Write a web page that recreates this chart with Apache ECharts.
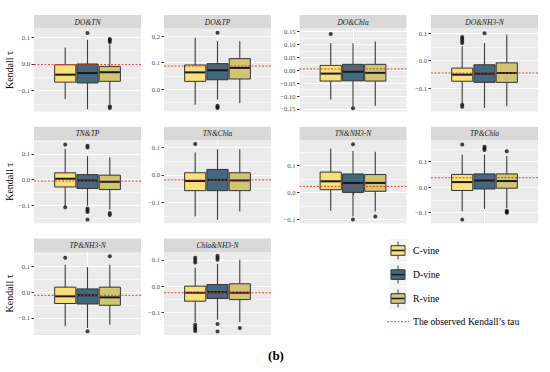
<!DOCTYPE html>
<html><head><meta charset="utf-8">
<script src="https://cdn.jsdelivr.net/npm/echarts@6/dist/echarts.min.js"></script>
<style>html,body{margin:0;padding:0;background:#fff}#c{width:550px;height:372px}</style>
</head><body><div id="c"></div>
<script>
// ---- data ----
const panelNames = ['DO&TN','DO&TP','DO&Chla','DO&NH3-N','TN&TP','TN&Chla','TN&NH3-N','TP&Chla','TP&NH3-N','Chla&NH3-N'];
const vineNames = ['C-vine','D-vine','R-vine'];
// [lower whisker, Q1, median, Q3, upper whisker]
const cVine = [
 [-0.131,-0.068,-0.040,-0.003,0.062],
 [-0.059,0.029,0.063,0.091,0.194],
 [-0.113,-0.042,-0.013,0.019,0.105],
 [-0.154,-0.075,-0.051,-0.027,0.052],
 [-0.104,-0.029,0.003,0.026,0.119],
 [-0.151,-0.057,-0.022,0.008,0.081],
 [-0.068,0.010,0.041,0.075,0.161],
 [-0.094,-0.013,0.020,0.050,0.128],
 [-0.133,-0.044,-0.016,0.020,0.108],
 [-0.136,-0.057,-0.025,0.000,0.070]
];
const dVine = [
 [-0.170,-0.071,-0.034,0.000,0.091],
 [-0.040,0.035,0.071,0.096,0.181],
 [-0.141,-0.041,-0.006,0.023,0.105],
 [-0.172,-0.079,-0.047,-0.015,0.064],
 [-0.102,-0.035,-0.004,0.019,0.091],
 [-0.163,-0.057,-0.018,0.020,0.093],
 [-0.089,0.000,0.035,0.068,0.153],
 [-0.085,-0.007,0.026,0.052,0.128],
 [-0.140,-0.046,-0.012,0.013,0.098],
 [-0.127,-0.047,-0.023,0.006,0.085]
];
const rVine = [
 [-0.150,-0.065,-0.031,-0.009,0.073],
 [-0.053,0.038,0.080,0.115,0.181],
 [-0.138,-0.042,-0.010,0.023,0.112],
 [-0.166,-0.079,-0.045,-0.008,0.095],
 [-0.117,-0.039,-0.009,0.017,0.087],
 [-0.133,-0.057,-0.020,0.008,0.093],
 [-0.071,0.004,0.035,0.066,0.150],
 [-0.081,-0.004,0.024,0.052,0.122],
 [-0.127,-0.051,-0.020,0.020,0.108],
 [-0.136,-0.051,-0.025,0.009,0.100]
];
const cOutliers = [[],[],[0.141],[0.086,0.080,0.072,0.064,-0.160,-0.168],[0.136,-0.108],[0.112],[],[0.167,-0.127],[0.135],[0.108,0.099,0.090,-0.146,-0.155,-0.163,-0.170]];
const dOutliers = [[0.116],[0.213,-0.063,-0.068,-0.072],[-0.147],[0.100],[0.131,0.125,-0.113,-0.120,-0.126,-0.156],[],[0.178,-0.100],[0.158,0.152,0.146],[-0.153],[0.115,0.108,0.100,-0.144,-0.172]];
const rOutliers = [[0.094,0.088,0.082,-0.158,-0.165],[],[],[],[-0.130,-0.138],[],[-0.089],[0.141,-0.092,-0.097,-0.100],[0.141],[-0.159]];
const observedTau = [-0.002,0.087,0.005,-0.045,-0.006,-0.018,0.022,0.037,-0.012,-0.025];
// axis limits and tick steps
const yMin = [-0.178,-0.085,-0.160,-0.185,-0.170,-0.175,-0.114,-0.141,-0.167,-0.185];
const yMax = [0.133,0.229,0.162,0.117,0.153,0.126,0.193,0.184,0.158,0.130];
const tickStep = [0.1,0.1,0.05,0.1,0.1,0.1,0.1,0.1,0.1,0.1];
const tickDecimals = [1,1,2,1,1,1,1,1,1,1];
const yTitle = 'Kendall τ';
const legendLine = 'The observed Kendall’s tau';
const figLabel = '(b)';

// ---- styles / layout ----
const vineColors = ['#F8E07C','#45687F','#CFC574'];
const FONT = '"Liberation Serif","DejaVu Serif",serif';
const colLeft = [34,164,299.5,431];
const rowTop = [15,126.7,238.4];
const panelW = 107, stripH = 13.5, plotH = 83;

function ticksFor(p, minor){
  const s = tickStep[p], out = [];
  const a = Math.ceil((yMin[p]-1e-9)/(s/2)), b = Math.floor((yMax[p]+1e-9)/(s/2));
  for (let k=a;k<=b;k++){
    const isMinor = Math.abs(k)%2===1;
    if (isMinor===minor) out.push(+(k*s/2).toFixed(4));
  }
  return out;
}
function fmt(p){ return v => { const t = Math.abs(v).toFixed(tickDecimals[p]); return (v < -1e-9 ? '\u2212' : '') + t; }; }

const grids=[], xAxes=[], yAxes=[], series=[], graphics=[];
const N = panelNames.length;
for (let p=0;p<N;p++){
  const col = p%4, row = Math.floor(p/4);
  const L = colLeft[col], T = rowTop[row]+stripH;
  grids.push({left:L, top:T, width:panelW, height:plotH, show:true, backgroundColor:'#EBEBEB', borderWidth:0});
  graphics.push({type:'rect', shape:{x:L,y:rowTop[row],width:panelW,height:stripH}, style:{fill:'#D9D9D9'}, silent:true});
  graphics.push({type:'text', x:L+panelW/2, y:rowTop[row]+stripH/2+0.5, style:{text:panelNames[p], font:'italic 7.5px '+FONT, fill:'#1A1A1A', align:'center', verticalAlign:'middle'}, silent:true});
}
for (let p=0;p<N;p++){
  const col = p%4, row = Math.floor(p/4);
  const L = colLeft[col], T = rowTop[row]+stripH;
  grids.push({left:L+panelW*0.1875, top:T, width:panelW*0.625, height:plotH, show:false});
}
// outer x axes (value, 0.4..1.6)
for (let p=0;p<N;p++){
  xAxes.push({type:'value', gridIndex:p, min:0.4, max:1.6, axisLine:{show:false},
    axisTick:{show:true, customValues:[1], length:3, lineStyle:{color:'#333', width:1}},
    axisLabel:{show:false}, splitLine:{show:true, lineStyle:{color:'#FFFFFF', width:1}}});
}
// inner category axes
for (let p=0;p<N;p++){
  xAxes.push({type:'category', gridIndex:N+p, data:vineNames, show:false, boundaryGap:true});
}
// outer major y axes
for (let p=0;p<N;p++){
  const maj = ticksFor(p,false);
  const ax = {type:'value', gridIndex:p, min:yMin[p], max:yMax[p], axisLine:{show:false},
    axisTick:{show:true, customValues:maj, length:2.5, lineStyle:{color:'#333', width:1}},
    axisLabel:{show:true, customValues:maj, formatter:fmt(p), fontFamily:FONT, fontSize:6.6, color:'#4D4D4D', margin:4},
    splitLine:{show:true, lineStyle:{color:'#FFFFFF', width:1.1}}};
  if (p%4===0){
    Object.assign(ax,{name:yTitle, nameLocation:'middle', nameGap:20, nameRotate:90,
      nameTextStyle:{fontFamily:FONT, fontSize:10, color:'#000'}});
  }
  yAxes.push(ax);
}
// outer minor y axes (for minor grid lines)
for (let p=0;p<N;p++){
  const mn = ticksFor(p,true);
  yAxes.push({type:'value', gridIndex:p, min:yMin[p], max:yMax[p], axisLine:{show:false},
    axisTick:{show:false, customValues:mn}, axisLabel:{show:false},
    splitLine:{show:true, lineStyle:{color:'#FFFFFF', width:0.5}}});
}
// inner y axes
for (let p=0;p<N;p++){
  yAxes.push({type:'value', gridIndex:N+p, min:yMin[p], max:yMax[p], show:false, splitLine:{show:false}});
}

function renderBox(params, api){
  const x = api.value(0);
  const lo = api.coord([x, api.value(1)]);
  const q1 = api.coord([x, api.value(2)]);
  const md = api.coord([x, api.value(3)]);
  const q3 = api.coord([x, api.value(4)]);
  const hi = api.coord([x, api.value(5)]);
  const w = api.size([1,0])[0]*0.95;
  const cx = q1[0];
  return {type:'group', children:[
    {type:'line', shape:{x1:cx,y1:hi[1],x2:cx,y2:q3[1]}, style:{stroke:'#3C3C3C', lineWidth:1.1}},
    {type:'line', shape:{x1:cx,y1:q1[1],x2:cx,y2:lo[1]}, style:{stroke:'#3C3C3C', lineWidth:1.1}},
    {type:'rect', shape:{x:cx-w/2,y:q3[1],width:w,height:q1[1]-q3[1]}, style:{fill:vineColors[x], stroke:'#333333', lineWidth:1}},
    {type:'line', shape:{x1:cx-w/2+0.5,y1:md[1],x2:cx+w/2-0.5,y2:md[1]}, style:{stroke:'#1A1A1A', lineWidth:2}}
  ]};
}

for (let p=0;p<N;p++){
  const stats = [cVine[p], dVine[p], rVine[p]];
  series.push({type:'custom', name:'box-'+p, xAxisIndex:N+p, yAxisIndex:2*N+p, renderItem:renderBox, z:2,
    encode:{x:0, y:[1,2,3,4,5]},
    data: stats.map((s,i)=>[i].concat(s))});
  const outs = [];
  [cOutliers[p], dOutliers[p], rOutliers[p]].forEach((arr,i)=>arr.forEach(v=>outs.push([i,v])));
  series.push({type:'scatter', xAxisIndex:N+p, yAxisIndex:2*N+p, data:outs, symbolSize:4, z:3,
    itemStyle:{color:'#111111'}});
  series.push({type:'line', xAxisIndex:p, yAxisIndex:p, data:[[0.4,observedTau[p]],[1.6,observedTau[p]]],
    symbol:'none', z:5, lineStyle:{color:'#E0352B', width:0.9, type:[2,1.5]}});
}

// legend (drawn)
const legY = [250.5,274.6,298.5];
vineNames.forEach((nm,i)=>{
  const cy = legY[i];
  graphics.push({type:'rect', shape:{x:389.5,y:cy-11.5,width:17,height:23}, style:{fill:'#F4F4F4'}, silent:true});
  graphics.push({type:'line', shape:{x1:398,y1:cy-9,x2:398,y2:cy+9}, style:{stroke:'#3C3C3C', lineWidth:1}, silent:true});
  graphics.push({type:'rect', shape:{x:391,y:cy-4.8,width:14,height:9.6}, style:{fill:vineColors[i], stroke:'#333', lineWidth:1}, silent:true});
  graphics.push({type:'line', shape:{x1:391.5,y1:cy,x2:404.5,y2:cy}, style:{stroke:'#1A1A1A', lineWidth:1.5}, silent:true});
  graphics.push({type:'text', x:413, y:cy, style:{text:nm, font:'9.7px '+FONT, fill:'#000', align:'left', verticalAlign:'middle'}, silent:true});
});
graphics.push({type:'line', shape:{x1:387,y1:321.7,x2:409,y2:321.7}, style:{stroke:'#E0352B', lineWidth:0.9, lineDash:[2,1.5]}, silent:true});
graphics.push({type:'text', x:413, y:321.7, style:{text:legendLine, font:'9.7px '+FONT, fill:'#000', align:'left', verticalAlign:'middle'}, silent:true});
graphics.push({type:'text', x:276, y:355, style:{text:figLabel, font:'bold 13px '+FONT, fill:'#000', align:'center', verticalAlign:'middle'}, silent:true});

const chart = echarts.init(document.getElementById('c'), null, {renderer:'svg'});
chart.setOption({
  animation:false,
  backgroundColor:'#FFFFFF',
  grid:grids, xAxis:xAxes, yAxis:yAxes, series:series,
  graphic:{elements:graphics}
});
</script></body></html>
